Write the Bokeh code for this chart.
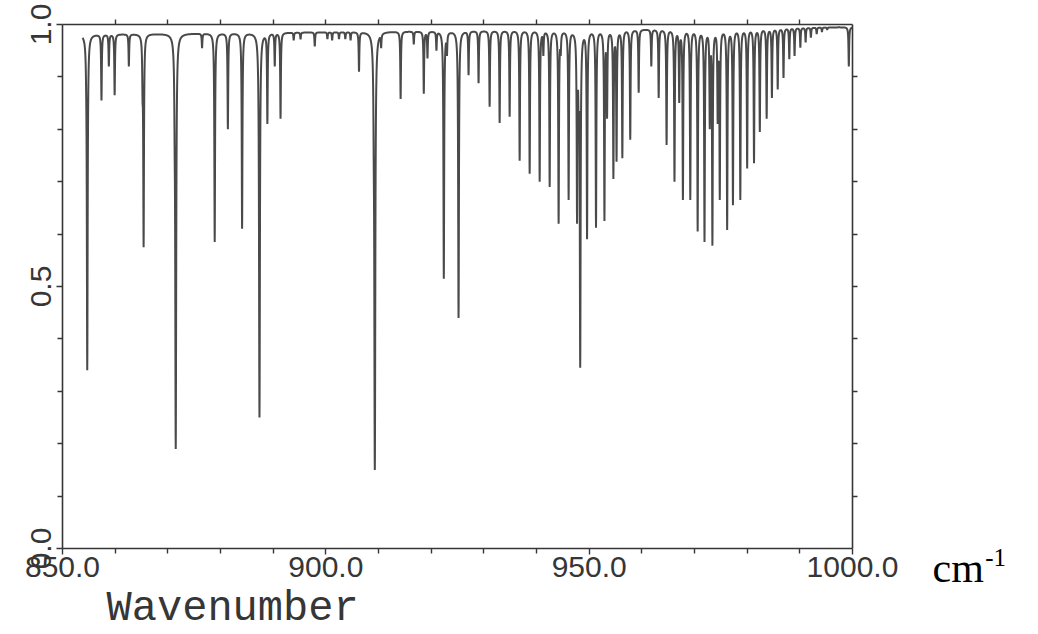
import numpy as np
from bokeh.plotting import figure
from bokeh.models import LinearAxis, FixedTicker, Label, Range1d, PrintfTickFormatter
from bokeh.embed import file_html
from bokeh.resources import INLINE

# Absorption line list: centre wavenumber (cm-1) and transmittance at the centre
line_centers = [
    854.5, 854.7, 857.4, 858.8, 859.9, 862.6, 865.2, 865.4, 871.3, 871.5,
    876.5, 878.9, 881.4, 884.1, 887.2, 887.4, 888.9, 890.3, 891.4, 893.9,
    895.2, 897.9, 900.3, 901.2, 902.5, 903.7, 904.7, 906.3, 909.1, 909.3,
    910.5, 914.2, 916.7, 918.6, 919.3, 921.0, 922.4, 923.0, 925.2, 927.1,
    929.0, 931.1, 933.0, 934.9, 936.8, 938.7, 940.6, 941.3, 942.5, 944.2,
    944.6, 946.1, 947.7, 948.0, 948.3, 949.6, 951.3, 952.9, 953.4, 954.6,
    955.2, 956.3, 957.8, 959.4, 961.8, 963.2, 964.7, 966.2, 967.1, 967.8,
    969.2, 970.6, 971.9, 972.9, 973.4, 974.4, 974.8, 976.2, 977.3, 978.7,
    980.0, 981.3, 982.4, 983.7, 984.7, 985.8, 986.9, 988.0, 989.0, 990.1,
    991.1, 992.1, 993.2, 994.2, 995.2, 999.3,
]
line_minima = [
    0.86, 0.34, 0.855, 0.92, 0.865, 0.92, 0.85, 0.575, 0.74, 0.19,
    0.955, 0.585, 0.80, 0.61, 0.85, 0.25, 0.81, 0.92, 0.82, 0.97,
    0.972, 0.958, 0.972, 0.97, 0.972, 0.972, 0.97, 0.91, 0.72, 0.15,
    0.955, 0.858, 0.962, 0.868, 0.935, 0.95, 0.515, 0.94, 0.44, 0.903,
    0.888, 0.843, 0.812, 0.824, 0.74, 0.715, 0.70, 0.94, 0.69, 0.62,
    0.94, 0.665, 0.62, 0.80, 0.345, 0.59, 0.612, 0.625, 0.82, 0.705,
    0.738, 0.745, 0.78, 0.87, 0.92, 0.86, 0.77, 0.70, 0.85, 0.665,
    0.665, 0.605, 0.585, 0.80, 0.578, 0.81, 0.665, 0.608, 0.655, 0.665,
    0.725, 0.735, 0.795, 0.82, 0.86, 0.876, 0.898, 0.934, 0.94, 0.956,
    0.966, 0.975, 0.982, 0.986, 0.99, 0.92,
]

# Recorded span and the instrument's 100 % line at its two ends
scan_start, scan_end = 853.8, 1000.0
baseline_level = [0.981, 0.995]
half_width = 0.07  # Lorentzian HWHM, cm-1

# Axis ticks
x_ticks = [850, 900, 950, 1000]
x_tick_labels = ["850.0", "900.0", "950.0", "1000.0"]
x_minor = [860, 870, 880, 890, 910, 920, 930, 940, 960, 970, 980, 990]
x_top = [860, 870, 880, 890, 900, 910, 920, 930, 940, 950, 960, 970, 980, 990]
y_ticks = [0.0, 0.5, 1.0]
y_tick_labels = ["0.0", "0.5", "1.0"]
y_minor = [0.1, 0.2, 0.3, 0.4, 0.6, 0.7, 0.8, 0.9]
y_right = [0.1, 0.2, 0.3, 0.4, 0.5, 0.6, 0.7, 0.8, 0.9]

# Build the transmission trace from the line list
centers = np.array(line_centers)
minima = np.array(line_minima)


def baseline(nu):
    return np.interp(nu, [scan_start, scan_end], baseline_level)


def profiles(nu):
    return half_width ** 2 / (half_width ** 2 + (nu[:, None] - centers[None, :]) ** 2)


target_abs = -np.log(minima / baseline(centers))
strength = np.clip(np.linalg.solve(profiles(centers), target_abs), 0, None)
nu = np.union1d(np.arange(scan_start, scan_end, 0.02), centers)
trans = baseline(nu) * np.exp(-profiles(nu) @ strength)

ink = "#363636"
trace = "#4a4a4a"

# Canvas geometry: the box 850-1000 / 0-1 sits at x 62..852, y 24..548 px
W, H = 1038, 634
box_l, box_r, box_t, box_b = 62, 852, 24, 548
sx = (box_r - box_l) / (1000 - 850)
sy = (box_b - box_t) / 1.0
x_range = Range1d(850 - box_l / sx, 1000 + (W - box_r) / sx)
y_range = Range1d(-(H - box_b) / sy, 1.0 + box_t / sy)

p = figure(width=W, height=H, x_range=x_range, y_range=y_range,
           output_backend="svg", toolbar_location=None, min_border=0)
p.grid.visible = False
p.outline_line_color = None
p.background_fill_color = "white"
p.border_fill_color = "white"

p.line(nu, trans, line_color=trace, line_width=2.0)

# bottom axis
xa = p.xaxis[0]
xa.ticker = FixedTicker(ticks=x_ticks, minor_ticks=x_minor)
xa.formatter = PrintfTickFormatter(format="%.1f")
xa.major_label_overrides = {float(k): v for k, v in zip(x_ticks, x_tick_labels)}
xa.fixed_location = 0.0
xa.bounds = (850, 1000)
# left axis
ya = p.yaxis[0]
ya.ticker = FixedTicker(ticks=y_ticks, minor_ticks=y_minor)
ya.formatter = PrintfTickFormatter(format="%.1f")
ya.major_label_overrides = {float(k): v for k, v in zip(y_ticks, y_tick_labels)}
ya.major_label_orientation = "vertical"
ya.fixed_location = 850.0
ya.bounds = (0, 1)

for ax in (xa, ya):
    ax.axis_line_color = ink
    ax.axis_line_width = 1.6
    ax.major_tick_line_color = ink
    ax.minor_tick_line_color = ink
    ax.major_tick_line_width = 1.4
    ax.minor_tick_line_width = 1.4
    ax.major_tick_in = 0
    ax.minor_tick_in = 0
    ax.major_tick_out = 6
    ax.minor_tick_out = 5
    ax.major_label_text_font = "Liberation Sans"
    ax.major_label_text_font_size = "30px"
    ax.major_label_text_color = ink
xa.major_label_standoff = 2
ya.major_label_standoff = 6

# frame on top and right with unlabelled ticks
top = LinearAxis(ticker=FixedTicker(ticks=[], minor_ticks=x_top),
                 fixed_location=1.0, bounds=(850, 1000))
right = LinearAxis(ticker=FixedTicker(ticks=[], minor_ticks=y_right),
                   fixed_location=1000.0, bounds=(0, 1))
for ax in (top, right):
    ax.axis_line_color = ink
    ax.axis_line_width = 1.6
    ax.minor_tick_line_color = ink
    ax.minor_tick_line_width = 1.4
    ax.minor_tick_in = 0
    ax.minor_tick_out = 5
    ax.major_tick_line_color = None
p.add_layout(top, "above")
p.add_layout(right, "right")

p.add_layout(Label(x=882.3, y=-0.1164, text="Wavenumber", text_align="center",
                   text_baseline="alphabetic", text_font="Liberation Mono",
                   text_font_size="42px", text_color=ink))
p.add_layout(Label(x=1015.2, y=-0.0363, text="cm", text_align="left",
                   text_baseline="alphabetic", text_font="Liberation Serif",
                   text_font_size="42px", text_color="black"))
p.add_layout(Label(x=1025.2, y=-0.018, text="-1", text_align="left",
                   text_baseline="alphabetic", text_font="Liberation Serif",
                   text_font_size="25px", text_color="black"))

open("out.html", "w").write(file_html(p, INLINE))
